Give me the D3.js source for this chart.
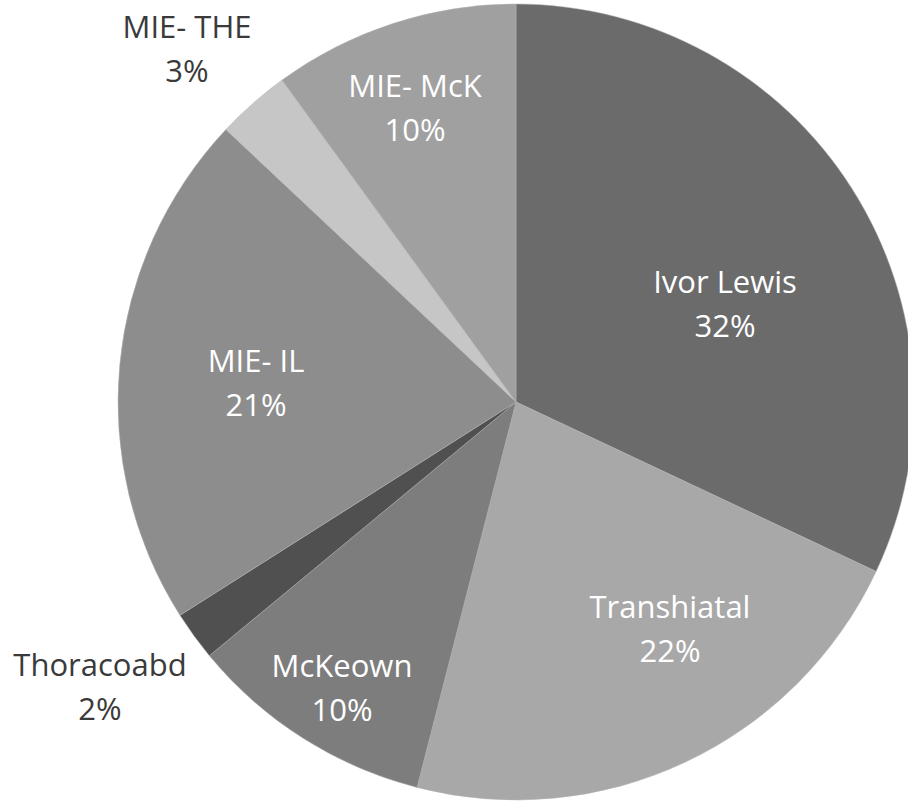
<!DOCTYPE html>
<html>
<head>
<meta charset="utf-8">
<script src="https://cdn.jsdelivr.net/npm/d3@7/dist/d3.min.js"></script>
<style>
  html, body { margin: 0; padding: 0; background: #fff; }
  svg { display: block; }
</style>
</head>
<body>
<svg id="chart" width="908" height="803"></svg>
<script>
// Surgical approach shares (percent), clockwise from 12 o'clock
const categories = ["Ivor Lewis", "Transhiatal", "McKeown", "Thoracoabd", "MIE- IL", "MIE- THE", "MIE- McK"];
const values = [32, 22, 10, 2, 21, 3, 10];
const shades = ["#6b6b6b", "#a8a8a8", "#7d7d7d", "#505050", "#8d8d8d", "#c6c6c6", "#a0a0a0"];

// Label placement: offset of the label's first-line baseline from the pie centre,
// and whether the label sits inside the slice (white) or outside (dark)
const labelOffsets = [[209, -109], [154, 216], [-174, 275], [-416, 274], [-260, -30], [-329, -364], [-101, -305]];
const labelInside = [true, true, true, false, true, false, true];

const width = 908, height = 803;
const cx = 516, cy = 402, radius = 398;
const lineGap = 44;

const svg = d3.select("#chart");
const g = svg.append("g").attr("transform", `translate(${cx},${cy})`);

const data = categories.map((c, i) => ({ name: c, value: values[i], i }));

const pie = d3.pie().value(d => d.value).sort(null);
const arc = d3.arc().innerRadius(0).outerRadius(radius);

const color = d3.scaleOrdinal().domain(categories).range(shades);

g.selectAll("path.slice")
  .data(pie(data))
  .join("path")
  .attr("class", "slice")
  .attr("d", arc)
  .attr("fill", d => color(d.data.name))
  .attr("stroke", "#b0b0b0")
  .attr("stroke-width", 0.5);

const labels = g.selectAll("text.label")
  .data(data)
  .join("text")
  .attr("class", "label")
  .attr("text-anchor", "middle")
  .attr("font-family", "'Open Sans', 'Noto Sans', sans-serif")
  .attr("font-size", 31)
  .attr("fill", d => labelInside[d.i] ? "#ffffff" : "#3a3a3a")
  .attr("x", d => labelOffsets[d.i][0])
  .attr("y", d => labelOffsets[d.i][1]);

labels.append("tspan")
  .attr("x", d => labelOffsets[d.i][0])
  .text(d => d.name);

labels.append("tspan")
  .attr("x", d => labelOffsets[d.i][0])
  .attr("dy", lineGap)
  .text(d => `${d.value}%`);
</script>
</body>
</html>
